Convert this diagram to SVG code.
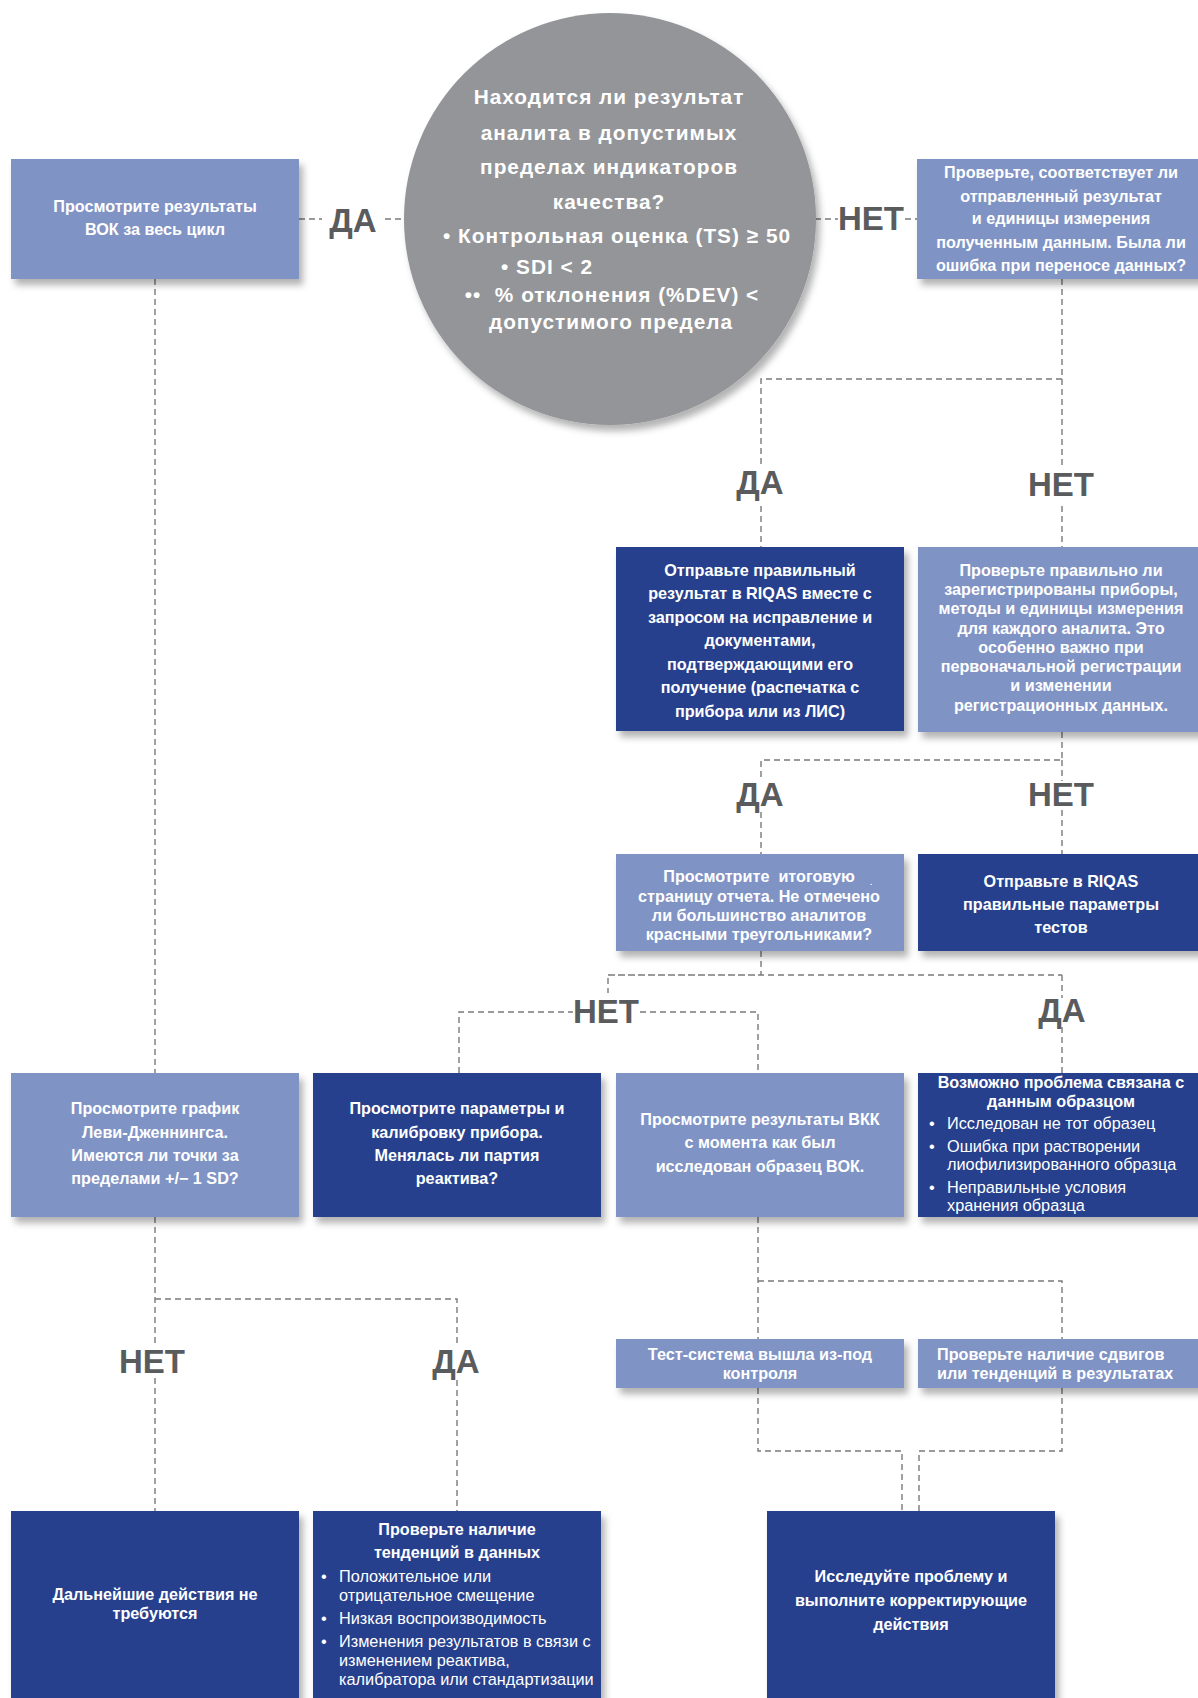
<svg xmlns="http://www.w3.org/2000/svg" width="1198" height="1698" viewBox="0 0 1198 1698">
<defs>
<filter id="sh" x="-10%" y="-10%" width="130%" height="140%">
<feDropShadow dx="4" dy="6" stdDeviation="3.5" flood-color="#000" flood-opacity="0.3"/>
</filter>
<style>
.lt{fill:#7f93c5;filter:url(#sh)}
.dk{fill:#26408d;filter:url(#sh)}
.t{font-family:"Liberation Sans",Arial,sans-serif;font-weight:bold;font-size:16.2px;fill:#fff;text-anchor:middle}
.r{font-family:"Liberation Sans",Arial,sans-serif;font-size:16.3px;fill:#fff}
.ct{font-family:"Liberation Sans",Arial,sans-serif;font-weight:bold;font-size:20.8px;fill:#fff;text-anchor:middle;letter-spacing:1px}
.lb{font-family:"Liberation Sans",Arial,sans-serif;font-weight:bold;font-size:33px;fill:#5a5b5d;text-anchor:middle}
.c{fill:none;stroke:#7a7a7a;stroke-width:1.4;stroke-dasharray:6 4}
</style>
</defs>
<rect width="1198" height="1698" fill="#fff"/>

<g id="connectors">
<path class="c" d="M299 219H322M385 219H406"/>
<path class="c" d="M815 219H838M905 219H918"/>
<path class="c" d="M155 279V1073"/>
<path class="c" d="M1062 279V379H761V467M761 506V547M1062 379V467M1062 506V547"/>
<path class="c" d="M1062 732V760H761V780M761 812V854M1062 760V781M1062 810V854"/>
<path class="c" d="M761 951V975H608V993M1062 975V998M1062 1027V1073M608 975H1062"/>
<path class="c" d="M459 1073V1012H573M640 1012H758V1073"/>
<path class="c" d="M155 1217V1343M155 1378V1511M155 1299H457V1345M457 1380V1511"/>
<path class="c" d="M758 1217V1339M758 1281H1062V1339"/>
<path class="c" d="M758 1388V1451H902V1511M1062 1388V1451H919V1511"/>
</g>

<g id="labels">
<text class="lb" x="353" y="232">ДА</text>
<text class="lb" x="871" y="230">НЕТ</text>
<text class="lb" x="760" y="494">ДА</text>
<text class="lb" x="1061" y="496">НЕТ</text>
<text class="lb" x="760" y="806">ДА</text>
<text class="lb" x="1061" y="806">НЕТ</text>
<text class="lb" x="606" y="1023">НЕТ</text>
<text class="lb" x="1062" y="1022">ДА</text>
<text class="lb" x="152" y="1373">НЕТ</text>
<text class="lb" x="456" y="1373">ДА</text>
</g>

<g id="n-start">
<circle cx="610" cy="219" r="206" fill="#939598" filter="url(#sh)"/>
<text class="ct" x="609" y="104">Находится ли результат</text>
<text class="ct" x="609" y="140">аналита в допустимых</text>
<text class="ct" x="609" y="174">пределах индикаторов</text>
<text class="ct" x="609" y="209">качества?</text>
<text class="ct" x="617" y="243">• Контрольная оценка (TS) ≥ 50</text>
<text class="ct" x="501" y="274" style="text-anchor:start">• SDI &lt; 2</text>
<text class="ct" x="612" y="302">••&#160;&#160;% отклонения (%DEV) &lt;</text>
<text class="ct" x="611" y="329">допустимого предела</text>
</g>

<g id="n-review-cycle">
<rect class="lt" x="11" y="159" width="288" height="120"/>
<text class="t" x="155" y="212">Просмотрите результаты</text>
<text class="t" x="155" y="235">ВОК за весь цикл</text>
</g>

<g id="n-check-transfer">
<rect class="lt" x="917" y="159" width="288" height="120"/>
<text class="t" x="1061" y="178">Проверьте, соответствует ли</text>
<text class="t" x="1061" y="202">отправленный результат</text>
<text class="t" x="1061" y="224">и единицы измерения</text>
<text class="t" x="1061" y="248">полученным данным. Была ли</text>
<text class="t" x="1061" y="271">ошибка при переносе данных?</text>
</g>

<g id="n-send-correct">
<rect class="dk" x="616" y="547" width="288" height="184"/>
<text class="t" x="760" y="576">Отправьте правильный</text>
<text class="t" x="760" y="599">результат в RIQAS вместе с</text>
<text class="t" x="760" y="623">запросом на исправление и</text>
<text class="t" x="760" y="646">документами,</text>
<text class="t" x="760" y="670">подтверждающими его</text>
<text class="t" x="760" y="693">получение (распечатка с</text>
<text class="t" x="760" y="717">прибора или из ЛИС)</text>
</g>

<g id="n-check-registration">
<rect class="lt" x="918" y="547" width="288" height="185"/>
<text class="t" x="1061" y="576">Проверьте правильно ли</text>
<text class="t" x="1061" y="595">зарегистрированы приборы,</text>
<text class="t" x="1061" y="614">методы и единицы измерения</text>
<text class="t" x="1061" y="634">для каждого аналита. Это</text>
<text class="t" x="1061" y="653">особенно важно при</text>
<text class="t" x="1061" y="672">первоначальной регистрации</text>
<text class="t" x="1061" y="691">и изменении</text>
<text class="t" x="1061" y="711">регистрационных данных.</text>
</g>

<g id="n-summary-page">
<rect class="lt" x="616" y="854" width="288" height="97"/>
<text class="t" x="759" y="882">Просмотрите&#160;&#160;итоговую</text>
<text class="t" x="871" y="885" style="font-size:8px">.</text>
<text class="t" x="759" y="902">страницу отчета. Не отмечено</text>
<text class="t" x="759" y="921">ли большинство аналитов</text>
<text class="t" x="759" y="940">красными треугольниками?</text>
</g>

<g id="n-send-params">
<rect class="dk" x="918" y="854" width="288" height="97"/>
<text class="t" x="1061" y="887">Отправьте в RIQAS</text>
<text class="t" x="1061" y="910">правильные параметры</text>
<text class="t" x="1061" y="933">тестов</text>
</g>

<g id="n-levey-jennings">
<rect class="lt" x="11" y="1073" width="288" height="144"/>
<text class="t" x="155" y="1114">Просмотрите график</text>
<text class="t" x="155" y="1138">Леви-Дженнингса.</text>
<text class="t" x="155" y="1161">Имеются ли точки за</text>
<text class="t" x="155" y="1184">пределами +/− 1 SD?</text>
</g>

<g id="n-calibration">
<rect class="dk" x="313" y="1073" width="288" height="144"/>
<text class="t" x="457" y="1114">Просмотрите параметры и</text>
<text class="t" x="457" y="1138">калибровку прибора.</text>
<text class="t" x="457" y="1161">Менялась ли партия</text>
<text class="t" x="457" y="1184">реактива?</text>
</g>

<g id="n-iqc">
<rect class="lt" x="616" y="1073" width="288" height="144"/>
<text class="t" x="760" y="1125">Просмотрите результаты ВКК</text>
<text class="t" x="760" y="1148">с момента как был</text>
<text class="t" x="760" y="1172">исследован образец ВОК.</text>
</g>

<g id="n-sample-problem">
<rect class="dk" x="918" y="1073" width="288" height="144"/>
<text class="t" x="1061" y="1088">Возможно проблема связана с</text>
<text class="t" x="1061" y="1107">данным образцом</text>
<text class="r" x="929" y="1129">•</text>
<text class="r" x="947" y="1129">Исследован не тот образец</text>
<text class="r" x="929" y="1152">•</text>
<text class="r" x="947" y="1152">Ошибка при растворении</text>
<text class="r" x="947" y="1170">лиофилизированного образца</text>
<text class="r" x="929" y="1193">•</text>
<text class="r" x="947" y="1193">Неправильные условия</text>
<text class="r" x="947" y="1211">хранения образца</text>
</g>

<g id="n-out-of-control">
<rect class="lt" x="616" y="1339" width="288" height="49"/>
<text class="t" x="760" y="1360">Тест-система вышла из-под</text>
<text class="t" x="760" y="1379">контроля</text>
</g>

<g id="n-check-shifts">
<rect class="lt" x="918" y="1339" width="288" height="49"/>
<text class="t" x="937" y="1360" style="text-anchor:start">Проверьте наличие сдвигов</text>
<text class="t" x="937" y="1379" style="text-anchor:start">или тенденций в результатах</text>
</g>

<g id="n-no-action">
<rect class="dk" x="11" y="1511" width="288" height="220"/>
<text class="t" x="155" y="1600">Дальнейшие действия не</text>
<text class="t" x="155" y="1619">требуются</text>
</g>

<g id="n-check-trends">
<rect class="dk" x="313" y="1511" width="288" height="220"/>
<text class="t" x="457" y="1535">Проверьте наличие</text>
<text class="t" x="457" y="1558">тенденций в данных</text>
<text class="r" x="321" y="1582">•</text>
<text class="r" x="339" y="1582">Положительное или</text>
<text class="r" x="339" y="1601">отрицательное смещение</text>
<text class="r" x="321" y="1624">•</text>
<text class="r" x="339" y="1624">Низкая воспроизводимость</text>
<text class="r" x="321" y="1647">•</text>
<text class="r" x="339" y="1647">Изменения результатов в связи с</text>
<text class="r" x="339" y="1666">изменением реактива,</text>
<text class="r" x="339" y="1685">калибратора или стандартизации</text>
</g>

<g id="n-investigate">
<rect class="dk" x="767" y="1511" width="288" height="220"/>
<text class="t" x="911" y="1582">Исследуйте проблему и</text>
<text class="t" x="911" y="1606">выполните корректирующие</text>
<text class="t" x="911" y="1630">действия</text>
</g>
</svg>
